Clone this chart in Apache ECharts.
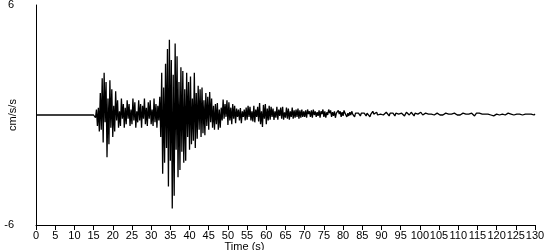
<!DOCTYPE html>
<html>
<head>
<meta charset="utf-8">
<script src="https://cdn.jsdelivr.net/npm/echarts@6/dist/echarts.min.js"></script>
<style>html,body{margin:0;padding:0;background:#fff}#c{width:550px;height:250px}</style>
</head>
<body>
<div id="c"></div>
<script>
// Quiet pre-event segment
var quietTimes = [0, 15];
var quietValues = [0, 0];
// Recorded trace from 15 s to 130 s, sampled every 0.25 s (cm/s/s)
var traceStart = 15;
var traceStep = 0.25;
var traceValues = [
  0, 0.1, -0.15, 0.3,
  -0.6, 0.4, -0.9, 1.2,
  -0.8, 2.0, -1.5, 2.3,
  -0.4, 1.8, -2.3, 0.9,
  -1.6, 1.9, -0.7, 1.4,
  -1.2, 0.5, -0.9, 1.3,
  -0.3, 0.8, -0.7, 0.2,
  -0.6, 0.9, -0.2, 0.6,
  -0.7, 0.4, -0.5, 0.8,
  -0.2, 0.6, -0.6, 0.3,
  -0.5, 0.9, -0.3, 0.7,
  -0.7, 0.2, -0.4, 0.8,
  -0.3, 0.6, -0.7, 0.5,
  -0.2, 0.9, -0.5, 0.4,
  -0.6, 0.7, -0.2, 0.8,
  -0.5, 0.3, -0.6, 0.9,
  -0.4, 0.6, -0.7, 0.5,
  -0.3, 1.0, -1.2, 2.3,
  -3.2, 1.5, -2.6, 2.8,
  -1.8, 3.6, -3.9, 4.1,
  -2.5, 3.0, -5.1, 2.2,
  -4.4, 3.9, -1.9, 3.2,
  -3.4, 1.8, -3.0, 2.6,
  -2.0, 2.4, -2.6, 1.4,
  -2.5, 2.3, -1.2, 1.8,
  -1.9, 2.1, -1.6, 0.9,
  -1.4, 2.3, -1.8, 1.2,
  -1.3, 1.6, -0.8, 1.4,
  -1.2, 1.5, -1.0, 0.8,
  -1.1, 1.2, -0.6, 1.0,
  -0.8, 1.25, -0.4, 0.9,
  -0.7, 0.5, -0.8, 0.6,
  -0.5, 0.65, -0.8, 0.3,
  -0.7, 0.4, -0.3, 0.85,
  -0.2, 0.6, -0.1, 0.8,
  -0.55, 0.7, -0.3, 0.4,
  -0.5, 0.6, -0.2, 0.5,
  -0.45, 0.35, -0.1, 0.3,
  -0.3, 0.38, -0.45, 0.2,
  -0.1, 0.3, -0.3, 0.4,
  -0.25, 0.5, -0.1, 0.45,
  -0.3, 0.2, -0.35, 0.5,
  -0.4, 0.3, -0.1, 0.45,
  -0.35, 0.65, -0.5, 0.2,
  -0.65, 0.55, -0.2, 0.6,
  -0.5, 0.35, -0.3, 0.5,
  -0.25, 0.45, -0.1, 0.35,
  -0.27, 0.2, -0.15, 0.45,
  -0.25, 0.3, -0.05, 0.4,
  -0.2, 0.45, -0.25, 0.15,
  -0.15, 0.4, -0.2, 0.35,
  -0.25, 0.2, -0.1, 0.4,
  -0.2, 0.25, -0.15, 0.3,
  -0.1, 0.35, -0.2, 0.25,
  -0.15, 0.3, -0.1, 0.2,
  -0.1, 0.25, -0.15, 0.3,
  0.05, 0.2, -0.1, 0.25,
  -0.15, 0.3, 0.0, 0.2,
  -0.1, 0.15, -0.05, 0.25,
  -0.15, 0.2, 0.05, 0.3,
  -0.1, 0.2, -0.15, 0.15,
  0.0, 0.3, 0.1, 0.25,
  -0.1, 0.15, -0.05, 0.2,
  -0.15, 0.1, 0.0, 0.25,
  0.05, 0.2, -0.1, 0.15,
  -0.05, 0.25, 0.1, 0.2,
  -0.1, 0.1, -0.05, 0.15,
  0.0, 0.2, 0.05, 0.15,
  -0.1, 0.1, 0.0, 0.2,
  0.1, 0.05, -0.05, 0.1,
  0.05, 0.15, 0.1, 0.0,
  -0.05, 0.1, 0.15, 0.05,
  -0.1, 0.05, 0.1, 0.2,
  0.05, -0.05, 0.1, 0.15,
  0.0, 0.1, -0.05, 0.05,
  0.15, 0.1, 0.0, -0.05,
  0.05, 0.15, 0.2, 0.05,
  -0.05, 0.1, 0.05, 0.15,
  0.1, 0.0, -0.05, 0.1,
  0.2, 0.1, 0.05, 0.15,
  0.0, 0.1, 0.2, 0.1,
  -0.05, 0.05, 0.15, 0.2,
  0.1, 0.0, 0.05, 0.15,
  0.2, 0.05, -0.05, 0.1,
  0.15, 0.2, 0.05, 0.0,
  0.1, 0.15, 0.05, 0.0,
  -0.05, 0.05, 0.1, 0.05,
  0.0, 0.05, 0.0, 0.05,
  0.05, 0.0, 0.05, 0.0,
  -0.05, 0.05, 0.1, 0.0,
  0.05, 0.0, 0.05, 0.1,
  0.0, -0.05, 0.05, 0.1,
  0.05, 0.0, 0.05, 0.0,
  0.1, 0.05, 0.0, 0.05,
  0.1, 0.15, 0.05, 0.0,
  0.05, 0.1, 0.0, -0.05,
  0.05, 0.1, 0.05, 0.0,
  0.05, 0.1, 0.15, 0.05,
  0.0, 0.05, 0.1, 0.05,
  0.0, -0.05, 0.05, 0.1,
  0.05, 0.0, 0.1, 0.05,
  0.0, 0.05, 0.0, 0.1,
  0.05, 0.0, -0.05, 0.05,
  0.1, 0.05, 0.0, 0.05,
  0.0, -0.05, 0.0, 0.05,
  0.05, 0.1, 0.05, 0.0,
  0.05, 0.0, 0.05, 0.1,
  0.05, 0.0, 0.05, 0.0,
  0.1, 0.05, 0.1, 0.05,
  0.0, 0.05, 0.0, 0.05,
  0.1, 0.05, 0.0, 0.05,
  0.05, 0.1, 0.05, 0.0,
  0.05, 0.0, 0.05, 0.1,
  0.0, 0.05, 0.0, 0.05,
  0.05, 0.1, 0.05, 0.0,
  0.05
];
var xAxisName = 'Time (s)';
var yAxisName = 'cm/s/s';

var data = [];
for (var i = 0; i < quietTimes.length; i++) data.push([quietTimes[i], quietValues[i]]);
for (var j = 0; j < traceValues.length; j++) data.push([traceStart + j * traceStep, traceValues[j]]);

var font = 'Liberation Sans, Arial, sans-serif';
var chart = echarts.init(document.getElementById('c'), null, {renderer: 'canvas'});
chart.setOption({
  animation: false,
  backgroundColor: '#fff',
  grid: {left: 36, right: 15, top: 5, bottom: 25, containLabel: false, outerBoundsMode: 'none'},
  xAxis: {
    type: 'value', min: 0, max: 130, interval: 5,
    name: xAxisName, nameLocation: 'middle', nameGap: 16, nameMoveOverlap: false,
    nameTextStyle: {color: '#000', fontFamily: font, fontSize: 11, padding: [0, 82, 0, 0]},
    axisLine: {show: true, onZero: false, lineStyle: {color: '#000', width: 1}},
    axisTick: {show: true, length: 5, lineStyle: {color: '#000'}},
    axisLabel: {color: '#000', fontFamily: font, fontSize: 11, margin: 5, hideOverlap: false},
    splitLine: {show: false}
  },
  yAxis: {
    type: 'value', min: -6, max: 6, interval: 12,
    name: yAxisName, nameLocation: 'middle', nameGap: 18, nameRotate: 90, nameMoveOverlap: false,
    nameTextStyle: {color: '#000', fontFamily: font, fontSize: 11},
    axisLine: {show: true, lineStyle: {color: '#000', width: 1}},
    axisTick: {show: false},
    axisLabel: {color: '#000', fontFamily: font, fontSize: 11, margin: 22},
    splitLine: {show: false}
  },
  series: [{
    type: 'line', data: data, showSymbol: false, symbol: 'none',
    lineStyle: {color: '#000', width: 1.3}, silent: true
  }]
});
</script>
</body>
</html>
